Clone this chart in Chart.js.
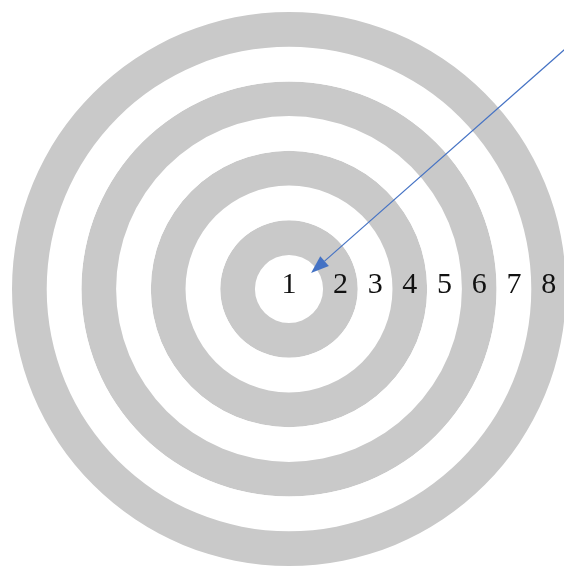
<!DOCTYPE html>
<html>
<head>
<meta charset="utf-8">
<script src="https://cdn.jsdelivr.net/npm/chart.js@4.4.1/dist/chart.umd.min.js"></script>
<style>
  html, body { margin: 0; padding: 0; background: #fff; overflow: hidden; }
  #wrap { position: absolute; left: 0; top: 0; width: 580px; height: 580px; }
</style>
</head>
<body>
<div id="wrap"><canvas id="TargetChart"></canvas></div>
<script>
// zone numbers, from the bullseye outwards
const zones = ['1', '2', '3', '4', '5', '6', '7', '8'];
// rings from the outside in (zone 1 is the hole in the middle)
const ringZones = ['8', '7', '6', '5', '4', '3', '2'];
const ringShade = ['gray', 'white', 'gray', 'white', 'gray', 'white', 'gray'];
const ringValues = [1, 1, 1, 1, 1, 1, 1];

const shadeColors = { gray: '#c9c9c9', white: '#ffffff' };

const datasets = ringZones.map((z, i) => ({
    label: 'Zone ' + z,
    data: [ringValues[i]],
    backgroundColor: shadeColors[ringShade[i]],
    borderWidth: 0,
    hoverOffset: 0
}));

// writes the zone numbers at each ring's middle, plus the arrow
const targetLabels = {
    id: 'targetLabels',
    afterDraw(chart) {
        const c = chart.ctx;
        const inner = chart.getDatasetMeta(ringZones.length - 1).data[0];
        const cx = inner.x, cy = inner.y;
        const mids = [0];
        for (let i = ringZones.length - 1; i >= 0; i--) {
            const arc = chart.getDatasetMeta(i).data[0];
            mids.push((arc.innerRadius + arc.outerRadius) / 2);
        }
        c.save();
        c.fillStyle = '#111';
        c.font = '30px "Liberation Serif", "Times New Roman", serif';
        c.textAlign = 'center';
        c.textBaseline = 'alphabetic';
        zones.forEach((z, i) => {
            c.fillText(z, cx + mids[i], cy + 4);
        });

        // arrow pointing into the bullseye
        const tipR = inner.innerRadius * 0.8;
        const tipA = -36 * Math.PI / 180;
        const tx = cx + tipR * Math.cos(tipA), ty = cy + tipR * Math.sin(tipA);
        const dir = -41.4 * Math.PI / 180;
        const len = 420;
        const sx = tx + len * Math.cos(dir), sy = ty + len * Math.sin(dir);
        const head = 18, half = 6.5;
        const bx = tx + head * Math.cos(dir), by = ty + head * Math.sin(dir);
        c.strokeStyle = '#4472c4';
        c.fillStyle = '#4472c4';
        c.lineWidth = 1.2;
        c.beginPath();
        c.moveTo(sx, sy);
        c.lineTo(bx, by);
        c.stroke();
        const px = -Math.sin(dir), py = Math.cos(dir);
        c.beginPath();
        c.moveTo(tx, ty);
        c.lineTo(bx + px * half, by + py * half);
        c.lineTo(bx - px * half, by - py * half);
        c.closePath();
        c.fill();
        c.restore();
    }
};

const ctx = document.getElementById('TargetChart');
new Chart(ctx, {
    type: 'doughnut',
    data: { labels: ['ring'], datasets: datasets },
    options: {
        responsive: true,
        maintainAspectRatio: false,
        animation: false,
        events: [],
        cutout: '12.3%',
        layout: { padding: { left: 12, top: 12, right: 14, bottom: 14 } },
        plugins: {
            legend: { display: false },
            tooltip: { enabled: false }
        }
    },
    plugins: [targetLabels]
});
</script>
</body>
</html>
